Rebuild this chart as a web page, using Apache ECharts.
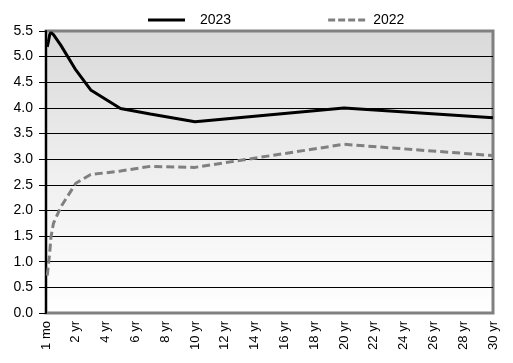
<!DOCTYPE html>
<html>
<head>
<meta charset="utf-8">
<script src="https://cdn.jsdelivr.net/npm/echarts@6/dist/echarts.min.js"></script>
<style>
html,body{margin:0;padding:0;background:#fff;}
#chart{width:513px;height:363px;}
</style>
</head>
<body>
<div id="chart"></div>
<script>
// maturities in years
var maturities = [1/12, 2/12, 3/12, 4/12, 6/12, 1, 2, 3, 5, 7, 10, 20, 30];
var yields2023 = [5.19, 5.30, 5.43, 5.47, 5.43, 5.22, 4.74, 4.35, 3.99, 3.88, 3.73, 4.00, 3.81];
var yields2022 = [0.73, 0.95, 1.18, 1.48, 1.75, 2.07, 2.53, 2.70, 2.77, 2.86, 2.84, 3.29, 3.07];
var seriesNames = ['2023', '2022'];
var yTicks = [0, 0.5, 1, 1.5, 2, 2.5, 3, 3.5, 4, 4.5, 5, 5.5];
var xTickStep = 2;

function pairs(xs, ys){ return xs.map(function(x,i){ return [x, ys[i]]; }); }

var chart = echarts.init(document.getElementById('chart'), null, {renderer:'canvas'});
var font = 'Liberation Sans, Arial, sans-serif';
var dashIcon = 'path://M0,0h7v3h-7z M10,0h7v3h-7z M20,0h7v3h-7z M30,0h7v3h-7z';
chart.setOption({
  animation: false,
  backgroundColor: '#fff',
  textStyle: {fontFamily: font},
  legend: {
    left: 143, top: 8,
    itemWidth: 37, itemHeight: 3, itemGap: 97,
    textStyle: {fontFamily: font, fontSize: 14, color: '#000'},
    data: [
      {name: seriesNames[0], icon: 'rect', itemStyle: {color: '#000'}, textStyle: {padding: [0,0,0,10]}},
      {name: seriesNames[1], icon: dashIcon, itemStyle: {color: '#808080'}, textStyle: {padding: [0,0,0,3]}}
    ]
  },
  grid: {
    left: 46, right: 20, top: 31, bottom: 50,
    show: true,
    borderColor: '#808080', borderWidth: 3,
    backgroundColor: new echarts.graphic.LinearGradient(0, 0, 0, 1, [
      {offset: 0, color: '#d9d9d9'},
      {offset: 0.5, color: '#efefef'},
      {offset: 1, color: '#ffffff'}
    ])
  },
  xAxis: {
    type: 'value', min: 0, max: 30, interval: xTickStep,
    axisLine: {show: false},
    axisTick: {show: false},
    splitLine: {show: false},
    axisLabel: {
      rotate: 90, margin: 8, fontSize: 13, color: '#000', fontFamily: font,
      formatter: function(v){ return v === 0 ? '1 mo' : v + ' yr'; }
    }
  },
  yAxis: {
    type: 'value', min: yTicks[0], max: yTicks[yTicks.length-1], interval: 0.5,
    axisLine: {show: true, lineStyle: {color: '#000', width: 2}},
    axisTick: {show: true, length: 7, lineStyle: {color: '#000'}},
    splitLine: {show: true, showMinLine: false, showMaxLine: false, lineStyle: {color: '#000', width: 1}},
    axisLabel: {
      margin: 13, fontSize: 14, color: '#000', fontFamily: font,
      formatter: function(v){ return v.toFixed(1); }
    }
  },
  series: [
    {
      name: seriesNames[0], type: 'line', data: pairs(maturities, yields2023),
      symbol: 'none', z: 3,
      lineStyle: {color: '#000', width: 3},
      itemStyle: {color: '#000'}
    },
    {
      name: seriesNames[1], type: 'line', data: pairs(maturities, yields2022),
      symbol: 'none', z: 2,
      lineStyle: {color: '#808080', width: 3, type: [8, 4]},
      itemStyle: {color: '#808080'}
    }
  ]
});
</script>
</body>
</html>
